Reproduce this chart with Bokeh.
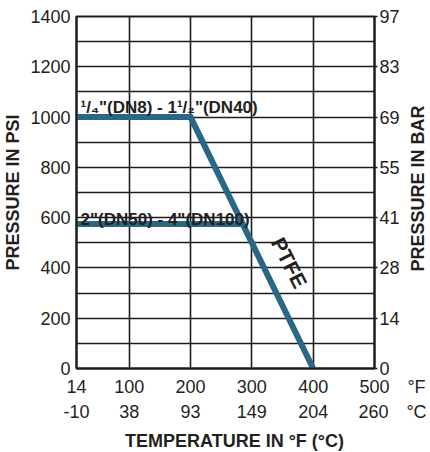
import math
from bokeh.plotting import figure
from bokeh.models import Range1d, LinearAxis, FixedTicker
from bokeh.core.properties import value
from bokeh.embed import file_html
from bokeh.resources import INLINE

# ---- data ----
temp_f_ticks = [14, 100, 200, 300, 400, 500]
temp_f_labels = ["14", "100", "200", "300", "400", "500"]
temp_c_labels = ["-10", "38", "93", "149", "204", "260"]
unit_f = "\u00b0F"
unit_c = "\u00b0C"
psi_ticks = [0, 200, 400, 600, 800, 1000, 1200, 1400]
psi_labels = ["0", "200", "400", "600", "800", "1000", "1200", "1400"]
bar_labels = ["0", "14", "28", "41", "55", "69", "83", "97"]

small_temp = [14, 200, 400]
small_psi = [1000, 1000, 0]
small_name = "\u00b9/\u2084\"(DN8) - 1\u00b9/\u2082\"(DN40)"

large_temp = [14, 285]
large_psi = [575, 575]
large_name = "2\"(DN50) - 4\"(DN100)"

material = "PTFE"
bar_title = "PRESSURE IN BAR"
psi_title = "PRESSURE IN PSI"
temp_title = "TEMPERATURE IN \u00b0F (\u00b0C)"

FONT = "Liberation Sans"
BLUE = "#2a6786"
DARK = "#1c1c1c"
TXT = "#231f20"

EN = "\u2002"

def with_unit(label, unit):
    # unit placed to the right of the last tick label, label stays centred
    return EN * 4 + label + EN * 2 + unit

p = figure(frame_width=298, frame_height=352,
           x_range=Range1d(14, 500), y_range=Range1d(0, 1400),
           output_backend="svg", toolbar_location=None,
           min_border_left=71, min_border_top=16, min_border_right=20,
           min_border_bottom=10, background_fill_color="white")

p.outline_line_color = DARK
p.outline_line_width = 2

# grid
p.xgrid.ticker = FixedTicker(ticks=temp_f_ticks)
p.ygrid.ticker = FixedTicker(ticks=list(range(0, 1401, 100)))
for g in (p.xgrid, p.ygrid):
    g.grid_line_color = DARK
    g.grid_line_width = 1.6
    g.grid_line_alpha = 1.0

def style_axis(ax):
    ax.major_label_text_font = FONT
    ax.major_label_text_font_size = "18px"
    ax.major_label_text_color = TXT
    ax.axis_label_text_font = FONT
    ax.axis_label_text_font_style = "bold"
    ax.axis_label_text_font_size = "18px"
    ax.axis_label_text_color = TXT
    ax.minor_tick_line_color = None
    ax.major_tick_in = 0
    ax.axis_line_color = DARK
    ax.axis_line_width = 2

# left axis (psi)
ya = p.yaxis[0]
ya.ticker = FixedTicker(ticks=psi_ticks)
ya.major_label_overrides = dict(zip(psi_ticks, psi_labels))
style_axis(ya)
ya.major_tick_out = 0
ya.major_label_standoff = 6
ya.axis_label = psi_title
ya.axis_label_standoff = 4

# right axis (bar)
ra = LinearAxis(ticker=FixedTicker(ticks=psi_ticks),
                major_label_overrides=dict(zip(psi_ticks, bar_labels)))
style_axis(ra)
ra.major_tick_out = 3
ra.major_tick_line_color = DARK
ra.major_tick_line_width = 1.5
ra.major_label_standoff = 2
p.add_layout(ra, "right")

# right-hand title, reading bottom to top; the rotated label starts at its tick
TITLE_START_PSI = 386
rt = LinearAxis(ticker=FixedTicker(ticks=[TITLE_START_PSI]),
                major_label_overrides={TITLE_START_PSI: bar_title},
                major_label_orientation=math.pi / 2)
rt.axis_line_color = None
rt.major_tick_line_color = None
rt.minor_tick_line_color = None
rt.major_tick_out = 0
rt.major_tick_in = 0
rt.major_label_standoff = 16
rt.major_label_text_font = FONT
rt.major_label_text_font_style = "bold"
rt.major_label_text_font_size = "18px"
rt.major_label_text_color = TXT
p.add_layout(rt, "right")

# bottom axis (°F)
xa = p.xaxis[0]
xa.ticker = FixedTicker(ticks=temp_f_ticks)
f_over = dict(zip(temp_f_ticks, temp_f_labels))
f_over[temp_f_ticks[-1]] = with_unit(temp_f_labels[-1], unit_f)
xa.major_label_overrides = f_over
style_axis(xa)
xa.major_tick_out = 0
xa.major_label_standoff = 8

# second bottom axis (°C)
ca = LinearAxis(ticker=FixedTicker(ticks=temp_f_ticks))
c_over = dict(zip(temp_f_ticks, temp_c_labels))
c_over[temp_f_ticks[-1]] = with_unit(temp_c_labels[-1], unit_c)
ca.major_label_overrides = c_over
style_axis(ca)
ca.axis_line_color = None
ca.major_tick_line_color = None
ca.major_tick_out = 0
ca.major_label_standoff = 2
ca.axis_label = EN * 2 + temp_title
ca.axis_label_standoff = 6
p.add_layout(ca, "below")

# series lines
p.line(small_temp, small_psi, line_color=BLUE, line_width=6, line_join="miter")
p.line(large_temp, large_psi, line_color=BLUE, line_width=6)

# series labels
p.text(x=[small_temp[0]], y=[small_psi[0]], text=[small_name],
       text_font=value(FONT), text_font_style="bold", text_font_size="17px",
       text_color=TXT, text_baseline="alphabetic", x_offset=4, y_offset=-10)
p.text(x=[large_temp[0]], y=[large_psi[0]], text=[large_name],
       text_font=value(FONT), text_font_style="bold", text_font_size="17px",
       text_color=TXT, text_baseline="alphabetic", x_offset=4, y_offset=-4)

# material label along the sloped segment
p.text(x=[361], y=[421], text=[material],
       text_font=value(FONT), text_font_style="bold", text_font_size="21px",
       text_color=TXT, text_align="center", text_baseline="middle",
       angle=-1.1)

open("out.html", "w").write(file_html(p, INLINE))
